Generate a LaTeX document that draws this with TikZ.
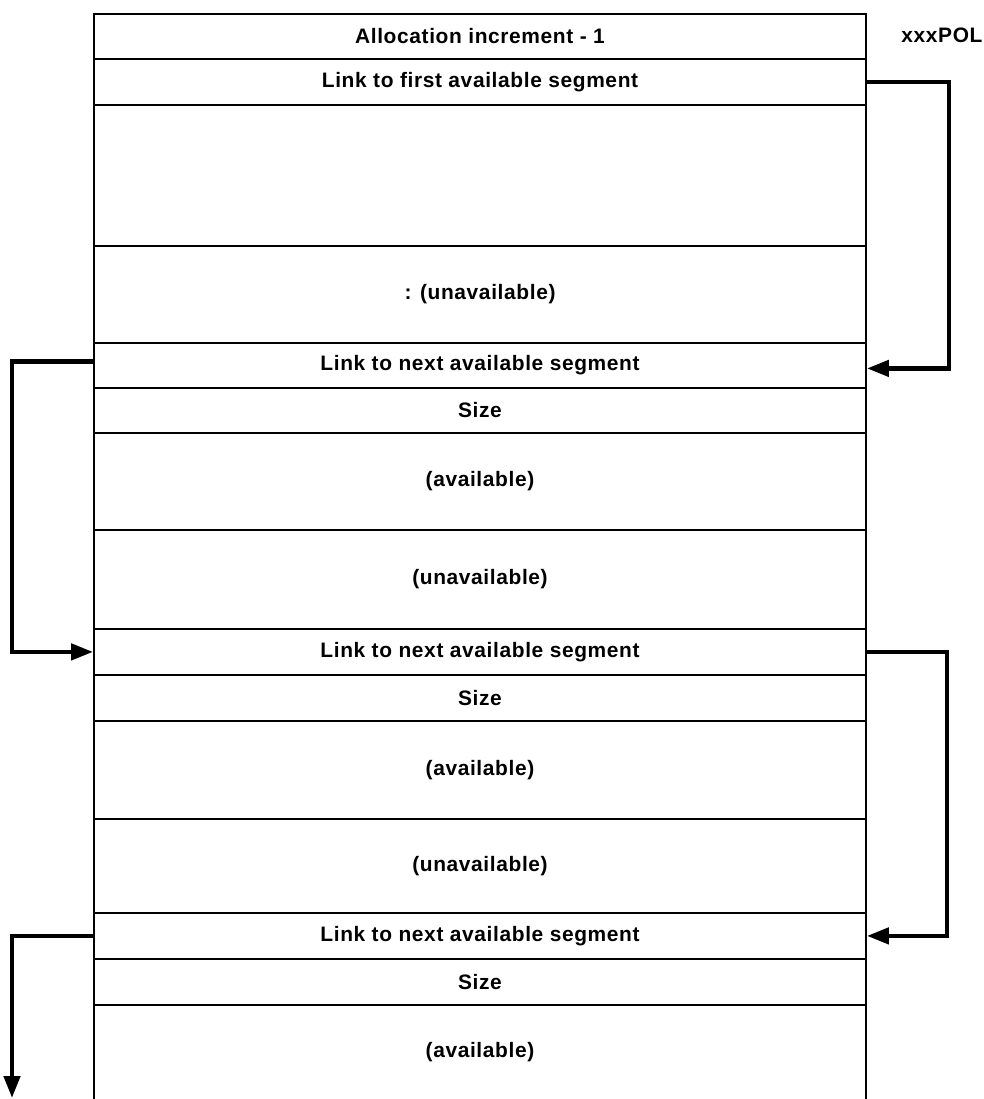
\documentclass[tikz,border=0pt]{standalone}
\usepackage{fontspec}
\setmainfont{Liberation Sans}[LetterSpace=3]
\usetikzlibrary{arrows.meta}
\begin{document}
\begin{tikzpicture}[x=1bp,y=-1bp,
  every node/.style={font=\bfseries\fontsize{21}{24}\selectfont},
  cell/.style={draw, line width=1.8bp, minimum width=772bp, inner sep=0pt, anchor=north},
  opencell/.style={minimum width=772bp, inner sep=0pt, anchor=north},
  link/.style={line width=4.5bp, line join=miter, -{Triangle[length=22bp,width=16bp]}}]
\useasboundingbox (0,0) rectangle (984,1099);
% pool header
\node[cell, minimum height=45bp]  (hdr)  at (480,13)  {Allocation increment - 1};
\node[cell, minimum height=46bp]  (first) at (480,58) {Link to first available segment};
\node[cell, minimum height=141bp] (blank) at (480,104) {};
\node[cell, minimum height=97bp]  (u1)   at (480,245) {: (unavailable)};
% first free segment
\node[cell, minimum height=45bp]  (l1)   at (480,342) {Link to next available segment};
\node[cell, minimum height=45bp]  (s1)   at (480,387) {Size};
\node[cell, minimum height=97bp]  (a1)   at (480,432) {(available)};
\node[cell, minimum height=99bp]  (u2)   at (480,529) {(unavailable)};
% second free segment
\node[cell, minimum height=46bp]  (l2)   at (480,628) {Link to next available segment};
\node[cell, minimum height=46bp]  (s2)   at (480,674) {Size};
\node[cell, minimum height=98bp]  (a2)   at (480,720) {(available)};
\node[cell, minimum height=94bp]  (u3)   at (480,818) {(unavailable)};
% third free segment
\node[cell, minimum height=46bp]  (l3)   at (480,912) {Link to next available segment};
\node[cell, minimum height=46bp]  (s3)   at (480,958) {Size};
\node[opencell, minimum height=95bp] (a3) at (480,1004) {(available)};
\draw[line width=1.8bp] (a3.north west) -- (a3.south west)
      (a3.north east) -- (a3.south east);
% pool name
\node (pol) at (942,35) {xxxPOL};
% free chain
\coordinate (endchain) at (12,1098);
\draw[link] (first.east) -- ++(82,0) |- ([yshift=-3bp]l1.east);
\draw[link] ([yshift=4bp]l1.west) -- ++(-81,0) |- (l2.west);
\draw[link] (l2.east) -- ++(80,0) |- (l3.east);
\draw[link] (l3.west) -- (endchain |- l3.west) -- (endchain);
\end{tikzpicture}
\end{document}
